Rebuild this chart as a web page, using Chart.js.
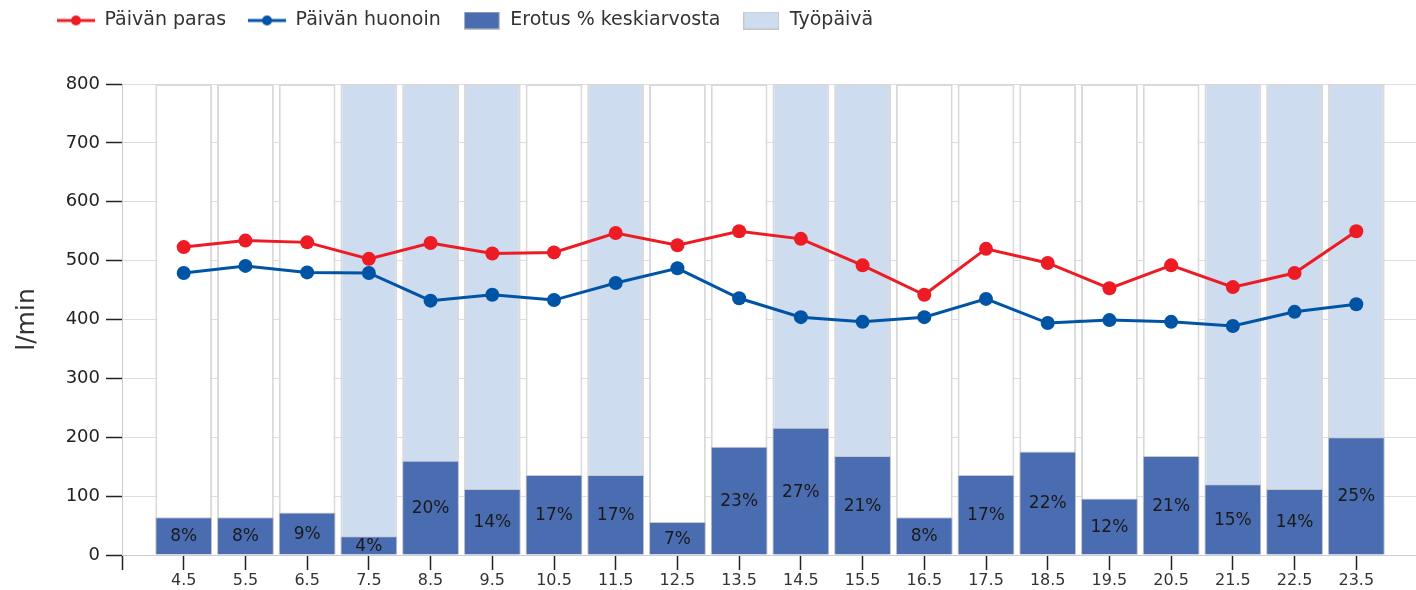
<!DOCTYPE html>
<html>
<head>
<meta charset="utf-8">
<script src="https://cdn.jsdelivr.net/npm/chart.js@4"></script>
<style>
    html, body { margin: 0; padding: 0; background: #fff; overflow: hidden; }
    #wrap { width: 1425px; height: 590px; }
</style>
</head>
<body>
<div id="wrap"><canvas id="chart"></canvas></div>
<script>
// päivät (x-akseli)
const days = ["4.5", "5.5", "6.5", "7.5", "8.5", "9.5", "10.5", "11.5", "12.5", "13.5",
              "14.5", "15.5", "16.5", "17.5", "18.5", "19.5", "20.5", "21.5", "22.5", "23.5"];
const workDay = [false, false, false, true, true, true, false, true, false, false,
                 true, true, false, false, false, false, false, true, true, true];
const bestFlow = [523, 534, 531, 503, 530, 512, 514, 547, 526, 550,
                  537, 492, 442, 520, 496, 453, 492, 455, 479, 550];
const worstFlow = [479, 491, 480, 479, 432, 442, 433, 462, 487, 436,
                   404, 396, 404, 435, 394, 399, 396, 389, 413, 426];
const diffPct = [8, 8, 9, 4, 20, 14, 17, 17, 7, 23,
                 27, 21, 8, 17, 22, 12, 21, 15, 14, 25];
const yMax = 800;
const yStep = 100;
const pctScale = 8; // prosentti piirretään l/min-asteikolle (1 % = 8)

const RED = "#ed1c24";
const BLUE = "#0054a6";
const DARK = "#4a6cb1";
const LIGHT = "#cddcee";

// tyhjä paikka kummallekin reunalle
const pad = arr => [null, ...arr, null];

function lineIcon(color) {
    const c = document.createElement("canvas");
    c.width = 38; c.height = 12;
    const g = c.getContext("2d");
    g.strokeStyle = color; g.lineWidth = 3;
    g.beginPath(); g.moveTo(0, 6); g.lineTo(38, 6); g.stroke();
    g.fillStyle = color;
    g.beginPath(); g.arc(19, 6, 5, 0, Math.PI * 2); g.fill();
    return c;
}
function boxIcon(color) {
    const c = document.createElement("canvas");
    c.width = 36; c.height = 18;
    const g = c.getContext("2d");
    g.fillStyle = color; g.fillRect(0, 0, 36, 18);
    g.strokeStyle = "#c4c4c4"; g.lineWidth = 1;
    g.strokeRect(0.5, 0.5, 35, 17);
    return c;
}

const pctLabels = {
    id: "pctLabels",
    afterDatasetDraw(chart, args) {
        if (args.index !== 2) return;
        const ctx = chart.ctx;
        ctx.save();
        ctx.font = "17px 'DejaVu Sans'";
        ctx.fillStyle = "#1a1a1a";
        ctx.textAlign = "center";
        ctx.textBaseline = "middle";
        args.meta.data.forEach((bar, i) => {
            const v = diffPct[i - 1];
            if (v == null) return;
            ctx.fillText(v + "%", bar.x, (bar.y + bar.base) / 2 + 1);
        });
        ctx.restore();
    }
};

const legendPlace = {
    id: "legendPlace",
    beforeInit(chart) {
        const fit = chart.legend.fit;
        chart.legend.fit = function () {
            fit.bind(chart.legend)();
            this.height = 84;
        };
    },
    beforeDraw(chart) {
        chart.legend.left = 57 - 22;
        chart.legend.top = -11;
    }
};

Chart.defaults.font.family = "'DejaVu Sans', sans-serif";
Chart.defaults.color = "#333";

const icons = [lineIcon(RED), lineIcon(BLUE), boxIcon(DARK), boxIcon(LIGHT)];

new Chart(document.getElementById("chart"), {
    data: {
        labels: ["", ...days, ""],
        datasets: [
            {
                type: "line",
                label: "Päivän paras",
                data: pad(bestFlow),
                borderColor: RED,
                backgroundColor: RED,
                borderWidth: 3,
                pointRadius: 7,
                pointBorderWidth: 0,
                order: 0
            },
            {
                type: "line",
                label: "Päivän huonoin",
                data: pad(worstFlow),
                borderColor: BLUE,
                backgroundColor: BLUE,
                borderWidth: 3,
                pointRadius: 7,
                pointBorderWidth: 0,
                order: 1
            },
            {
                type: "bar",
                label: "Erotus % keskiarvosta",
                data: pad(diffPct.map(p => p * pctScale)),
                backgroundColor: DARK,
                borderColor: "#c8c8c8",
                borderWidth: 1,
                grouped: false,
                barPercentage: 0.92,
                categoryPercentage: 1,
                order: 2
            },
            {
                type: "bar",
                label: "Työpäivä",
                data: pad(days.map(() => yMax)),
                backgroundColor: pad(workDay.map(w => w ? LIGHT : "#ffffff")),
                borderColor: "#d9d9d9",
                borderWidth: 2,
                grouped: false,
                barPercentage: 0.92,
                categoryPercentage: 1,
                order: 3
            }
        ]
    },
    options: {
        responsive: true,
        maintainAspectRatio: false,
        animation: false,
        layout: { padding: 0 },
        plugins: {
            tooltip: { enabled: false },
            legend: {
                position: "top",
                align: "start",
                labels: {
                    usePointStyle: true,
                    pointStyleWidth: 38,
                    padding: 22,
                    color: "#333",
                    font: { size: 19 },
                    generateLabels(chart) {
                        return chart.data.datasets.map((ds, i) => ({
                            text: ds.label,
                            pointStyle: icons[i],
                            datasetIndex: i,
                            fontColor: "#333",
                            lineWidth: 0,
                            hidden: false
                        }));
                    }
                }
            }
        },
        scales: {
            x: {
                type: "category",
                offset: false,
                grid: {
                    offset: false,
                    drawOnChartArea: false,
                    tickLength: 15,
                    tickColor: "#222",
                    tickWidth: 1.5
                },
                border: { color: "#cccccc" },
                ticks: {
                    autoSkip: false,
                    maxRotation: 0,
                    padding: 1,
                    color: "#333",
                    font: { size: 16 }
                },
                afterFit(scale) { scale.height = 35; }
            },
            y: {
                min: 0,
                max: yMax,
                grid: {
                    color: "#dddddd",
                    tickColor: "#222",
                    tickLength: 16,
                    tickWidth: 1.5
                },
                border: { color: "#cccccc" },
                ticks: {
                    stepSize: yStep,
                    padding: 6,
                    color: "#222",
                    font: { size: 18 }
                },
                title: {
                    display: true,
                    text: "l/min",
                    color: "#333",
                    font: { size: 25 },
                    padding: { top: 12, bottom: 0 }
                },
                afterFit(scale) { scale.width = 122; }
            }
        }
    },
    plugins: [pctLabels, legendPlace]
});
</script>
</body>
</html>
